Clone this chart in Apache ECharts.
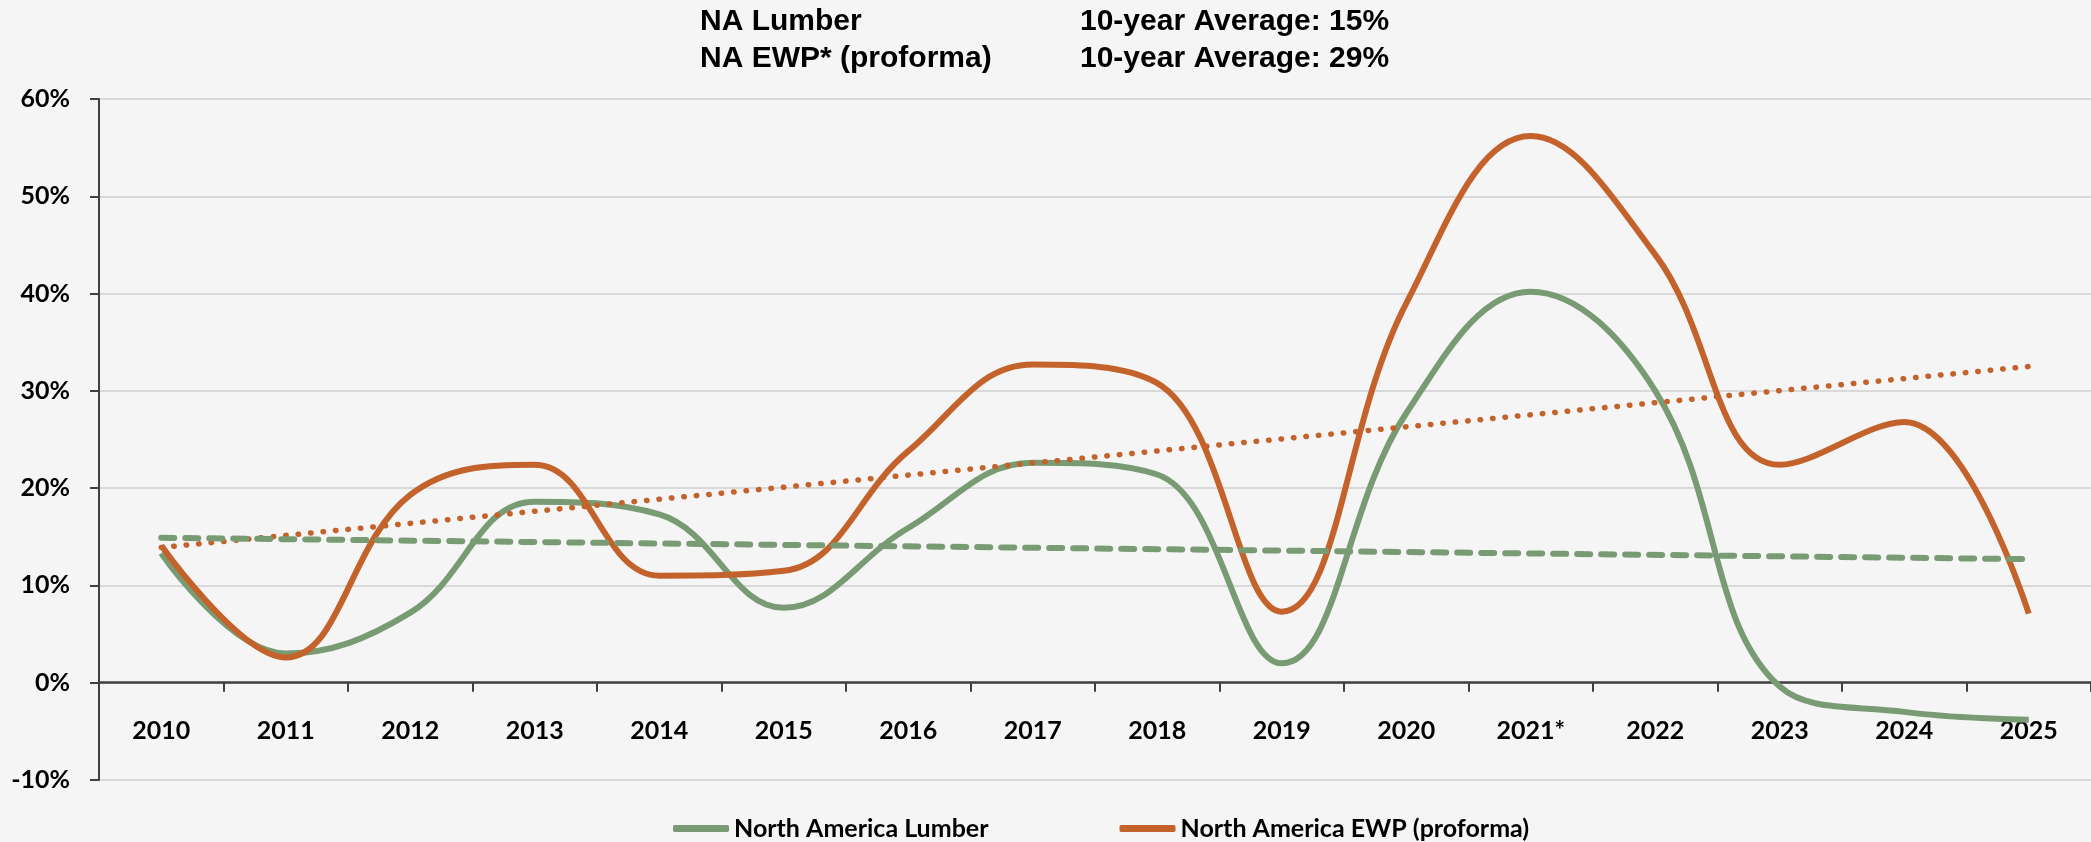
<!DOCTYPE html>
<html>
<head>
<meta charset="utf-8">
<script src="https://cdn.jsdelivr.net/npm/echarts@6/dist/echarts.min.js"></script>
<style>
  html, body { margin: 0; padding: 0; background: #f5f5f5; }
  #chart { width: 2091px; height: 842px; }
</style>
</head>
<body>
<div id="chart"></div>
<script>
// Annual growth, % — North America lumber vs. engineered wood products
const years = ['2010', '2011', '2012', '2013', '2014', '2015', '2016', '2017',
               '2018', '2019', '2020', '2021*', '2022', '2023', '2024', '2025'];
const lumber = [13.3, 3.0, 7.2, 18.6, 17.3, 7.7, 15.9, 22.6,
                21.4, 2.0, 27.7, 40.2, 30.0, -0.4, -3.0, -3.8];
const ewp = [14.1, 2.6, 19.3, 22.4, 11.0, 11.5, 23.8, 32.7,
             30.8, 7.3, 39.0, 56.2, 44.0, 22.4, 26.8, 7.1];

// Linear trend lines: value at first and last year
const lumberTrendEnds = [14.9, 12.7];
const ewpTrendEnds = [13.9, 32.5];

// Value axis range and step (%)
const yMin = -10, yMax = 60, yStep = 10;

// Header block: label / average pairs
const headerRows = [
  ['NA Lumber', '10-year Average: 15%'],
  ['NA EWP* (proforma)', '10-year Average: 29%']
];

const GREEN = '#789b74';
const ORANGE = '#c4622b';

const GRID_TOP = 99, GRID_BOTTOM = 62, CHART_H = 842;

// Trend line drawn through its two end points only
function trendData(ends) {
  return years.map((_, i) => i === 0 ? ends[0] : (i === years.length - 1 ? ends[1] : null));
}

const headerGraphics = [];
headerRows.forEach((row, r) => {
  const y = 24 + r * 37;
  headerGraphics.push({
    type: 'text', left: 700, top: y - 17,
    style: { text: row[0], font: 'bold 30px "Liberation Sans", Arial, sans-serif', fill: '#000' }
  });
  headerGraphics.push({
    type: 'text', left: 1080, top: y - 17,
    style: { text: row[1], font: 'bold 30px "Liberation Sans", Arial, sans-serif', fill: '#000' }
  });
});

// Category axis sits on the 0% line: shift it up from the grid bottom
const plotH = CHART_H - GRID_TOP - GRID_BOTTOM;
const zeroOffset = -plotH * (0 - yMin) / (yMax - yMin);

const chart = echarts.init(document.getElementById('chart'), null, { renderer: 'canvas' });
chart.setOption({
  backgroundColor: '#f5f5f5',
  animation: false,
  graphic: headerGraphics,
  grid: { left: 99, right: 0, top: GRID_TOP, bottom: GRID_BOTTOM, containLabel: false },
  legend: {
    data: ['North America Lumber', 'North America EWP (proforma)'],
    left: 668, top: 811,
    icon: 'roundRect',
    itemWidth: 56, itemHeight: 7, itemGap: 131,
    textStyle: { fontFamily: 'Lato', fontWeight: 'bold', fontSize: 25, color: '#000' }
  },
  xAxis: {
    type: 'category',
    data: years,
    boundaryGap: true,
    offset: zeroOffset,
    axisLine: { onZero: false, lineStyle: { color: '#404040', width: 2.5 } },
    axisTick: { show: true, interval: 0, length: 9, lineStyle: { color: '#404040', width: 2 } },
    axisLabel: {
      interval: 0, margin: 36,
      fontFamily: 'Lato', fontWeight: 'bold', fontSize: 25, color: '#000'
    },
    splitLine: { show: false }
  },
  yAxis: {
    type: 'value',
    min: yMin, max: yMax, interval: yStep,
    axisLine: { show: true, lineStyle: { color: '#404040', width: 2 } },
    axisTick: { show: true, length: 9, lineStyle: { color: '#404040', width: 2 } },
    axisLabel: {
      formatter: '{value}%', margin: 29,
      fontFamily: 'Lato', fontWeight: 'bold', fontSize: 25, color: '#000'
    },
    splitLine: { show: true, lineStyle: { color: '#d9d9d9', width: 2 } }
  },
  series: [
    {
      name: 'North America Lumber', type: 'line', data: lumber,
      smooth: 0.4, symbol: 'none',
      lineStyle: { color: GREEN, width: 6 }, itemStyle: { color: GREEN }, z: 2
    },
    {
      name: 'North America EWP (proforma)', type: 'line', data: ewp,
      smooth: 0.4, symbol: 'none',
      lineStyle: { color: ORANGE, width: 6 }, itemStyle: { color: ORANGE }, z: 3
    },
    {
      name: 'EWP trend', type: 'line', data: trendData(ewpTrendEnds),
      connectNulls: true, symbol: 'none', silent: true,
      lineStyle: { color: ORANGE, width: 5.5, type: [0.5, 12], cap: 'round' }, z: 4
    },
    {
      name: 'Lumber trend', type: 'line', data: trendData(lumberTrendEnds),
      connectNulls: true, symbol: 'none', silent: true,
      lineStyle: { color: GREEN, width: 6, type: [13, 11], cap: 'round' }, z: 5
    }
  ]
});
</script>
</body>
</html>
